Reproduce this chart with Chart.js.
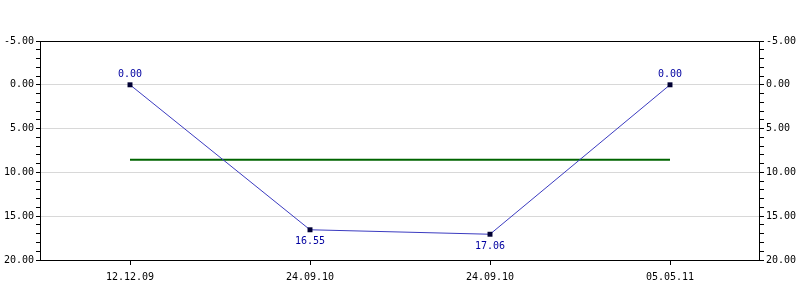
<!DOCTYPE html>
<html>
<head>
<meta charset="utf-8">
<script src="https://cdn.jsdelivr.net/npm/chart.js@4/dist/chart.umd.min.js"></script>
<style>
html,body{margin:0;padding:0;background:#fff;}
#wrap{width:800px;height:300px;position:relative;}
</style>
</head>
<body>
<div id="wrap"><canvas id="c" width="800" height="300"></canvas></div>
<script>
const categories = ['12.12.09', '24.09.10', '24.09.10', '05.05.11'];
const seriesValues = [0.00, 16.55, 17.06, 0.00];
const averageValue = [8.55, 8.55, 8.55, 8.55];
const yMin = -5, yMax = 20, yStep = 1, yMajor = 5;

const FONT = {family: '"DejaVu Sans Mono", monospace', size: 10};

const borderPlugin = {
  id: 'frame',
  afterDraw(chart) {
    const a = chart.chartArea, ctx = chart.ctx;
    ctx.save();
    ctx.strokeStyle = '#000';
    ctx.lineWidth = 1;
    ctx.strokeRect(Math.round(a.left) + 0.5, Math.round(a.top) + 0.5,
      Math.round(a.right - a.left) - 1, Math.round(a.bottom - a.top));
    ctx.restore();
  }
};

const labelPlugin = {
  id: 'vlabels',
  afterDatasetsDraw(chart) {
    const meta = chart.getDatasetMeta(0);
    const ctx = chart.ctx;
    ctx.save();
    ctx.font = '10px "DejaVu Sans Mono", monospace';
    ctx.fillStyle = '#0000a0';
    ctx.textAlign = 'center';
    meta.data.forEach((pt, i) => {
      const v = seriesValues[i];
      const txt = v.toFixed(2);
      if (v <= 0) {
        ctx.textBaseline = 'bottom';
        ctx.fillText(txt, pt.x, pt.y - 5);
      } else {
        ctx.textBaseline = 'top';
        ctx.fillText(txt, pt.x, pt.y + 7);
      }
    });
    ctx.restore();
  }
};

function yAxis(pos, onArea) {
  return {
    type: 'linear',
    position: pos,
    reverse: true,
    min: yMin,
    max: yMax,
    afterFit(s) { s.width = 40; },
    border: {display: false},
    grid: {
      drawOnChartArea: onArea,
      color: ctx => (ctx.tick && ctx.tick.value % yMajor === 0 && ctx.tick.value !== yMin && ctx.tick.value !== yMax) ? '#d8d8d8' : 'rgba(0,0,0,0)',
      tickColor: '#000',
      tickLength: 4,
      lineWidth: 1
    },
    ticks: {
      stepSize: yStep,
      autoSkip: false,
      padding: 2,
      color: '#000',
      font: FONT,
      callback: v => (v % yMajor === 0) ? v.toFixed(2) : ''
    }
  };
}

new Chart(document.getElementById('c'), {
  type: 'line',
  data: {
    labels: categories,
    datasets: [
      {
        data: seriesValues,
        borderColor: '#3b3bc0',
        borderWidth: 1,
        pointStyle: 'rect',
        pointRadius: 3.5,
        pointBackgroundColor: '#000033',
        pointBorderColor: '#000033',
        pointBorderWidth: 0,
        tension: 0,
        yAxisID: 'y'
      },
      {
        data: averageValue,
        borderColor: '#006400',
        borderWidth: 2,
        pointRadius: 0,
        tension: 0,
        yAxisID: 'y'
      }
    ]
  },
  options: {
    responsive: false,
    animation: false,
    layout: {padding: {top: 41, left: 0, right: 0, bottom: 0}},
    plugins: {legend: {display: false}, tooltip: {enabled: false}, title: {display: false}},
    scales: {
      x: {
        offset: true,
        afterFit(s) { s.height = 40; },
        border: {display: false},
        grid: {drawOnChartArea: false, tickColor: '#000', tickLength: 5, offset: false},
        ticks: {color: '#000', font: FONT, padding: 6, maxRotation: 0}
      },
      y: yAxis('left', true),
      y2: yAxis('right', false)
    }
  },
  plugins: [borderPlugin, labelPlugin]
});
</script>
</body>
</html>
